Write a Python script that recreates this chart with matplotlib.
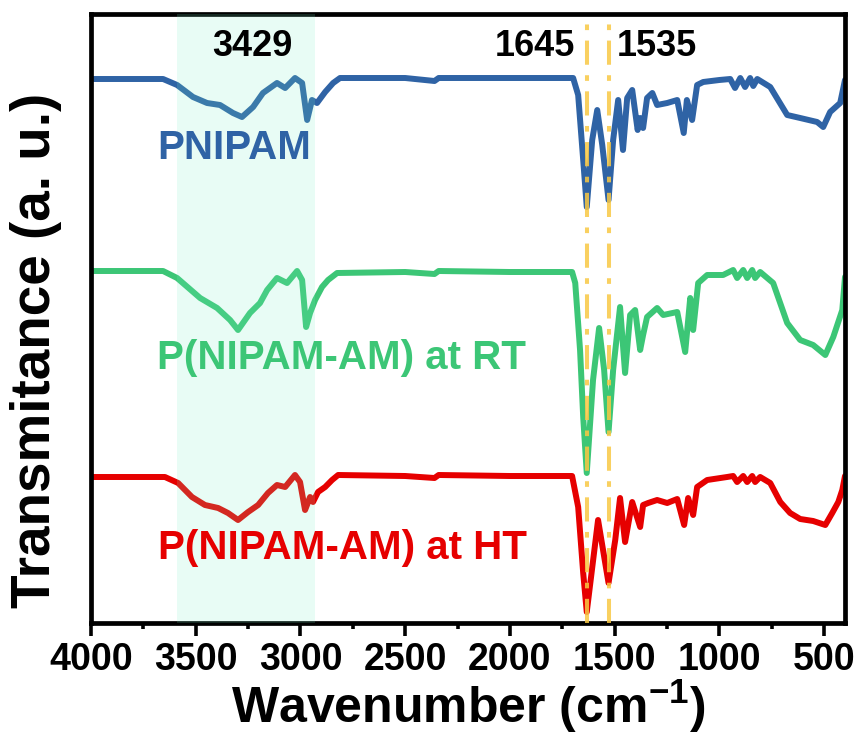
import matplotlib
matplotlib.use("Agg")
import matplotlib.pyplot as plt
import numpy as np

plt.rcParams['font.family'] = ['Liberation Sans', 'DejaVu Sans']
plt.rcParams['font.weight'] = 'bold'
plt.rcParams['mathtext.fontset'] = 'custom'
plt.rcParams['mathtext.rm'] = 'Liberation Sans:bold'
plt.rcParams['mathtext.it'] = 'Liberation Sans:bold'
plt.rcParams['mathtext.bf'] = 'Liberation Sans:bold'
plt.rcParams['mathtext.default'] = 'rm'

# ---------------- data ----------------
series_names = ["PNIPAM", "P(NIPAM-AM) at RT", "P(NIPAM-AM) at HT"]
series_colors = ["#2f63a5", "#3cc676", "#e60000"]

pnipam_wn = [4000, 3800, 3656, 3589, 3513, 3446, 3384, 3322, 3279, 3226, 3179, 3112, 3073,
             3026, 2992, 2968, 2945, 2921, 2882, 2844, 2811, 2500, 2360, 2340, 2000, 1800,
             1698, 1674, 1650, 1633, 1607, 1583, 1559, 1529, 1507, 1483, 1460, 1440, 1416,
             1390, 1378, 1364, 1345, 1320, 1297, 1249, 1201, 1170, 1155, 1130, 1106, 1077,
             1000, 948, 925, 900, 877, 853, 838, 819, 757, 676, 614, 533, 504, 471, 423, 400]
pnipam_t = [544, 544, 544, 538, 526, 520, 518, 510, 506, 516, 530, 540, 535,
            545, 540, 503, 523, 520, 531, 540, 545, 545, 542, 545, 545, 545,
            545, 528, 463, 416, 483, 513, 478, 423, 483, 523, 473, 525, 533,
            493, 505, 495, 525, 530, 518, 520, 523, 490, 523, 503, 538, 541,
            543, 544, 535, 545, 536, 545, 537, 544, 536, 508, 505, 501, 496, 511, 520, 543]

rt_wn = [4000, 3656, 3589, 3479, 3398, 3336, 3298, 3241, 3193, 3159, 3112, 3064, 3016,
         2992, 2973, 2954, 2930, 2897, 2868, 2825, 2500, 2360, 2340, 2000, 1800,
         1703, 1688, 1665, 1650, 1633, 1603, 1574, 1550, 1529, 1507, 1474, 1450, 1426,
         1402, 1378, 1364, 1345, 1297, 1268, 1201, 1163, 1139, 1125, 1101, 1058, 982,
         934, 915, 886, 867, 843, 829, 805, 743, 676, 614, 552, 494, 456, 413, 400]
rt_t = [352, 352, 345, 325, 315, 303, 293, 310, 320, 333, 345, 340, 352,
        343, 296, 310, 323, 336, 343, 350, 351, 349, 352, 351, 351,
        351, 340, 273, 206, 150, 243, 295, 253, 191, 253, 316, 250, 308,
        313, 273, 288, 306, 315, 308, 311, 271, 325, 293, 340, 348, 348,
        353, 345, 353, 345, 353, 345, 351, 340, 300, 283, 278, 268, 286, 313, 346]

ht_wn = [4000, 3647, 3584, 3518, 3456, 3393, 3346, 3298, 3250, 3202, 3155, 3112, 3073,
         3026, 3002, 2978, 2954, 2940, 2916, 2882, 2849, 2820, 2500, 2360, 2340, 2000, 1800,
         1703, 1674, 1650, 1633, 1579, 1529, 1497, 1474, 1450, 1416, 1378, 1364, 1340,
         1297, 1249, 1201, 1168, 1149, 1125, 1106, 1058, 963, 934, 915, 886, 867, 843,
         829, 805, 757, 709, 662, 614, 552, 494, 461, 432, 413, 400]
ht_t = [146, 146, 140, 126, 118, 115, 110, 103, 111, 118, 130, 138, 136,
        148, 141, 113, 126, 121, 131, 136, 143, 148, 147, 145, 148, 147, 147,
        147, 116, 50, 11, 103, 40, 83, 125, 81, 121, 96, 118, 120,
        123, 120, 124, 98, 125, 108, 136, 143, 146, 147, 141, 147, 141, 147,
        141, 146, 140, 121, 110, 104, 102, 98, 110, 121, 133, 147]

peak_labels = ["3429", "1645", "1535"]
marker_lines = [1633, 1529]
band = [2930, 3590]
xticks = [4000, 3500, 3000, 2500, 2000, 1500, 1000, 500]

# ---------------- figure ----------------
fig = plt.figure(figsize=(8.62, 7.35), dpi=100)
ax = fig.add_axes([91/862, 1-623/735, (845-91)/862, (623-14)/735])

curves = [(pnipam_wn, pnipam_t), (rt_wn, rt_t), (ht_wn, ht_t)]
for (wn, t), c in zip(curves, series_colors):
    ax.plot(wn, t, color=c, lw=4.3, solid_joinstyle='round', solid_capstyle='round', zorder=2)

ax.axvspan(band[0], band[1], color="#78f0c4", alpha=0.17, lw=0, zorder=3)
for xv in marker_lines:
    ax.axvline(xv, color="#f8c844", lw=2.9, alpha=0.85,
               dashes=(6, 2.6, 1.4, 2.6), zorder=4)

ax.set_xlim(4000, 400)
ax.set_ylim(0, 609)
ax.set_xticks(xticks)
ax.set_xticklabels([str(v) for v in xticks])
ax.xaxis.set_minor_locator(matplotlib.ticker.MultipleLocator(250))
ax.tick_params(axis='x', which='major', direction='out', length=9, width=2.6,
               labelsize=27, pad=5)
ax.tick_params(axis='x', which='minor', direction='out', length=4.5, width=2.6)
ax.set_yticks([])
for s in ax.spines.values():
    s.set_linewidth(3.4)

ax.set_xlabel(r"Wavenumber (cm$^{-1}$)", fontsize=36, fontweight='bold')
ax.xaxis.set_label_coords(0.5, -0.09)
ax.set_ylabel("Transmitance (a. u.)", fontsize=39.5, fontweight='bold')
ax.yaxis.set_label_coords(-0.0385, 0.448)

# peak annotations
ax.text(3231, 576, peak_labels[0], fontsize=26, fontweight='bold', ha='center', va='center')
ax.text(1880, 576, peak_labels[1], fontsize=26, fontweight='bold', ha='center', va='center')
ax.text(1297, 576, peak_labels[2], fontsize=26, fontweight='bold', ha='center', va='center')

# curve labels
ax.text(3317, 475, series_names[0], color=series_colors[0], fontsize=29,
        fontweight='bold', ha='center', va='center')
ax.text(2806, 265, series_names[1], color=series_colors[1], fontsize=29,
        fontweight='bold', ha='center', va='center')
ax.text(2801, 75, series_names[2], color=series_colors[2], fontsize=29,
        fontweight='bold', ha='center', va='center')

fig.savefig("out.png", dpi=100)
